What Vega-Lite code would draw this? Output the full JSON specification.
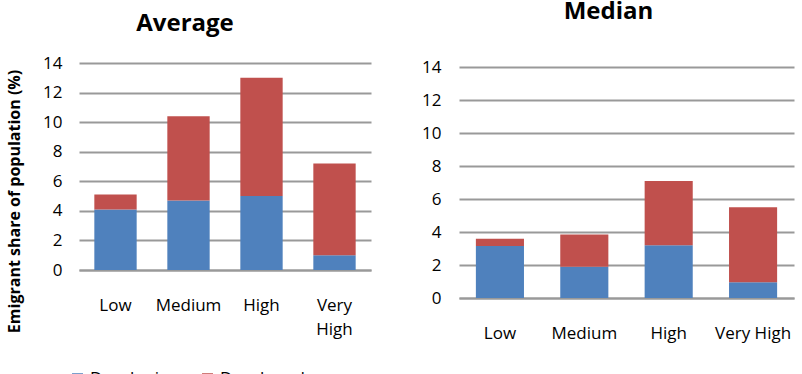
{
  "$schema": "https://vega.github.io/schema/vega-lite/v6.json",
  "padding": {"left": 6, "top": 0, "right": 5, "bottom": 0},
  "background": "white",
  "datasets": {
    "avg": [
      {"level": "Low", "group": "Developing", "value": 4.1},
      {"level": "Low", "group": "Developed", "value": 1.0},
      {"level": "Medium", "group": "Developing", "value": 4.7},
      {"level": "Medium", "group": "Developed", "value": 5.7},
      {"level": "High", "group": "Developing", "value": 5.0},
      {"level": "High", "group": "Developed", "value": 8.0},
      {"level": "Very High", "group": "Developing", "value": 1.0},
      {"level": "Very High", "group": "Developed", "value": 6.2}
    ],
    "med": [
      {"level": "Low", "group": "Developing", "value": 3.15},
      {"level": "Low", "group": "Developed", "value": 0.45},
      {"level": "Medium", "group": "Developing", "value": 1.9},
      {"level": "Medium", "group": "Developed", "value": 1.95},
      {"level": "High", "group": "Developing", "value": 3.2},
      {"level": "High", "group": "Developed", "value": 3.9},
      {"level": "Very High", "group": "Developing", "value": 0.95},
      {"level": "Very High", "group": "Developed", "value": 4.55}
    ]
  },
  "config": {
    "font": "Open Sans",
    "view": {"stroke": null},
    "axis": {"labelFont": "Open Sans", "labelColor": "#000", "labelFontSize": 17, "titleFont": "Open Sans"},
    "title": {"font": "Open Sans", "fontWeight": "bold", "fontSize": 24, "color": "#000"},
    "legend": {"orient": "none", "legendX": -10, "legendY": 307, "direction": "horizontal", "labelFont": "Open Sans", "labelFontSize": 17, "labelColor": "#000", "symbolType": "square", "symbolSize": 121, "symbolStrokeWidth": 0, "columnPadding": 20, "title": null}
  },
  "hconcat": [
    {
      "width": 292,
      "height": 207,
      "title": {"text": "Average", "dx": -40, "offset": 18},
      "data": {"name": "avg"},
      "mark": {"type": "bar"},
      "encoding": {
        "x": {"field": "level", "type": "nominal", "sort": ["Low", "Medium", "High", "Very High"],
          "scale": {"paddingInner": 0.42, "paddingOuter": 0.21},
          "axis": {"title": null, "labelAngle": 0, "ticks": false, "domain": true, "domainColor": "#999", "domainWidth": 2, "labelPadding": 27, "labelBaseline": "top",
            "labelExpr": "datum.label == 'Very High' ? ['Very', 'High'] : datum.label", "labelLineHeight": 24}},
        "y": {"field": "value", "type": "quantitative", "stack": "zero",
          "scale": {"domain": [0, 14], "nice": false},
          "axis": {"title": "Emigrant share of population (%)", "titleFontSize": 16, "titleFontWeight": "bold", "titleColor": "#000", "titleY": 138,
            "values": [0, 2, 4, 6, 8, 10, 12, 14], "domain": false, "ticks": false, "labelPadding": 17, "gridColor": "#999", "gridWidth": 2, "titlePadding": 20}},
        "color": {"field": "group", "type": "nominal", "sort": ["Developing", "Developed"],
          "scale": {"domain": ["Developing", "Developed"], "range": ["#4F81BD", "#C0504D"]}},
        "order": {"field": "group", "sort": "descending"}
      }
    },
    {
      "width": 335,
      "height": 235,
      "title": {"text": "Median", "dx": -18, "offset": 34},
      "data": {"name": "med"},
      "mark": {"type": "bar"},
      "encoding": {
        "x": {"field": "level", "type": "nominal", "sort": ["Low", "Medium", "High", "Very High"],
          "scale": {"paddingInner": 0.43, "paddingOuter": 0.2},
          "axis": {"title": null, "labelAngle": 0, "ticks": false, "domain": true, "domainColor": "#999", "domainWidth": 2, "labelPadding": 27, "labelBaseline": "top"}},
        "y": {"field": "value", "type": "quantitative", "stack": "zero",
          "scale": {"domain": [0, 14.25], "nice": false},
          "axis": {"title": null, "values": [0, 2, 4, 6, 8, 10, 12, 14], "domain": false, "ticks": false, "labelPadding": 18, "gridColor": "#999", "gridWidth": 2}},
        "color": {"field": "group", "type": "nominal", "sort": ["Developing", "Developed"],
          "scale": {"domain": ["Developing", "Developed"], "range": ["#4F81BD", "#C0504D"]}},
        "order": {"field": "group", "sort": "descending"}
      }
    }
  ],
  "spacing": 50
}
